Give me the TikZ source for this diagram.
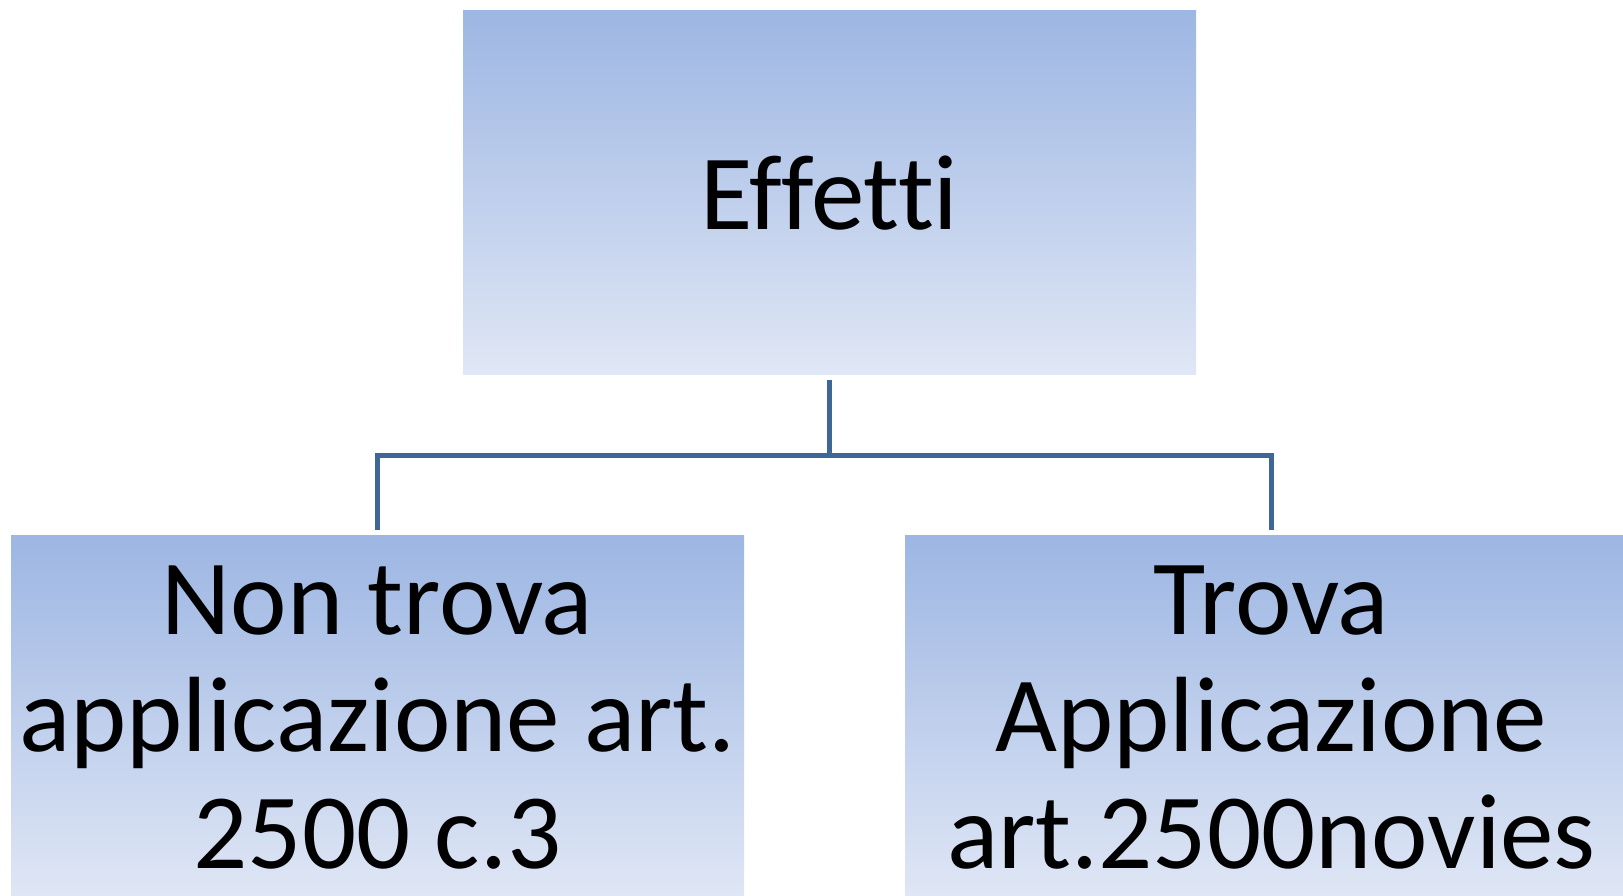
\documentclass[tikz,border=0pt]{standalone}
\usepackage{fontspec}
\setmainfont{Carlito}[Ligatures={NoCommon,NoRequired,NoContextual}]
\usepackage{tikz}
\usetikzlibrary{positioning}

\definecolor{boxtop}{HTML}{9DB6E3}
\definecolor{boxbot}{HTML}{E0E7F5}
\definecolor{linkcol}{HTML}{3E6696}

\tikzset{
  box/.style={rectangle, minimum width=733pt, minimum height=364pt,
    inner sep=0pt, outer sep=0pt, top color=boxtop, bottom color=boxbot,
    align=center, font=\fontsize{107}{117}\selectfont},
  link/.style={draw=linkcol, line width=5pt}
}

\begin{document}
\begin{tikzpicture}[x=1pt,y=1pt,on grid]
		\path[use as bounding box, clip] (0,0) rectangle (1623,896);
		
		\node[box] (root) at (829.5,703) {Effetti};
		\node[box] (left) [below left=525pt and 452pt of root] {Non trova\\applicazione art.\\2500 c.3};
		\node[box] (right) [below right=525pt and 442pt of root] {Trova\\Applicazione\\art.2500novies};
		
		\draw[link, shorten <=5pt] (root.south) -- ++(0,-81) coordinate (fork);
		\draw[link, shorten >=6pt] (fork) -| (left.north);
		\draw[link, shorten >=6pt] (fork) -| (right.north);
	\end{tikzpicture}
\end{document}
